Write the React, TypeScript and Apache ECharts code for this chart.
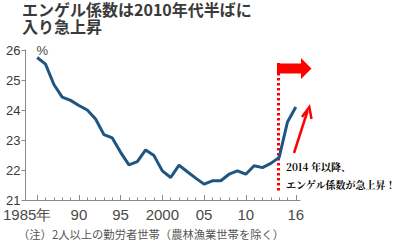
import React, { useEffect, useRef } from "react";
import * as echarts from "echarts";

const years = [1985, 1986, 1987, 1988, 1989, 1990, 1991, 1992, 1993, 1994, 1995, 1996, 1997, 1998, 1999, 2000, 2001, 2002, 2003, 2004, 2005, 2006, 2007, 2008, 2009, 2010, 2011, 2012, 2013, 2014, 2015, 2016];
const engel = [25.75, 25.53, 24.85, 24.43, 24.32, 24.15, 24.0, 23.7, 23.18, 23.07, 22.59, 22.17, 22.28, 22.67, 22.48, 21.97, 21.75, 22.16, 21.94, 21.73, 21.53, 21.64, 21.64, 21.86, 21.97, 21.86, 22.14, 22.08, 22.22, 22.42, 23.6, 24.1];
const majorTicks = [1985, 1990, 1995, 2000, 2005, 2010, 2016];
const tickLabels: Record<number, string> = { 1985: "1985年", 1990: "90", 1995: "95", 2000: "2000", 2005: "05", 2010: "10", 2016: "16" };
const titleLines = ["エンゲル係数は2010年代半ばに", "入り急上昇"];
const note = "（注）2人以上の勤労者世帯（農林漁業世帯を除く）";
const annotation = ["2014 年以降、", "エンゲル係数が急上昇！"];
const markYear = 2014;

export default function App() {
  const ref = useRef<HTMLDivElement>(null);
  useEffect(() => {
    if (!ref.current) return;
    const chart = echarts.init(ref.current, null, { renderer: "svg" });
    const axisFont = "'Liberation Sans Narrow', 'Liberation Sans', Arial, sans-serif";
    chart.setOption({
      animation: false,
      grid: { left: 22.7, right: 100, top: 50, bottom: 44 },
      xAxis: [
        {
          type: "value",
          min: 1983.6,
          max: 2016.5,
          splitLine: { show: false },
          axisLine: { show: true, lineStyle: { color: "#8a8a8a", width: 1 } },
          axisTick: { show: true, inside: true, length: 2.5, customValues: years, lineStyle: { color: "#8a8a8a" } },
          axisLabel: { show: false },
        },
        {
          type: "value",
          position: "bottom",
          min: 1983.6,
          max: 2016.5,
          splitLine: { show: false },
          axisLine: { show: false },
          axisTick: { show: true, inside: true, length: 5, customValues: majorTicks, lineStyle: { color: "#8a8a8a" } },
          axisLabel: {
            show: true,
            showMinLabel: true,
            showMaxLabel: true,
            hideOverlap: false,
            customValues: majorTicks,
            margin: 7,
            fontFamily: axisFont,
            fontSize: 15,
            color: "#4a4a4a",
            formatter: (v: number) => (v === 1985 ? "{a|" + tickLabels[v] + "}" : tickLabels[v] || ""),
            rich: { a: { fontFamily: axisFont, fontSize: 15, color: "#4a4a4a", padding: [0, 20, 0, 0] } },
          },
        },
      ],
      yAxis: {
        type: "value",
        min: 21,
        max: 26,
        interval: 1,
        name: "%",
        nameLocation: "end",
        nameGap: 0,
        nameTextStyle: { align: "left", verticalAlign: "middle", padding: [0, 0, 0, 11], fontSize: 13, color: "#4a4a4a", fontFamily: "'Liberation Sans', Arial, sans-serif" },
        splitLine: { show: false },
        axisLine: { show: true, lineStyle: { color: "#8a8a8a", width: 1 } },
        axisTick: { show: true, length: 4, lineStyle: { color: "#8a8a8a" } },
        axisLabel: { margin: 5, showMinLabel: true, showMaxLabel: true, fontSize: 13, lineHeight: 13, color: "#3a3a3a", fontFamily: "'Liberation Sans Narrow', 'Liberation Sans', Arial, sans-serif" },
      },
      series: [
        {
          type: "line",
          data: years.map((y, i) => [y, engel[i]]),
          showSymbol: false,
          symbol: "none",
          lineStyle: { color: "#1f5582", width: 3 },
          xAxisIndex: 0,
        },
      ],
    });

    const px = chart.convertToPixel({ xAxisIndex: 0 }, markYear) as number;
    const x = Math.round(px) - 0.5;
    chart.setOption({
      graphic: [
        {
          type: "text",
          x: 22,
          y: 8.5,
          style: { text: titleLines[0], font: "bold 16px 'Noto Sans CJK JP', sans-serif", fill: "#3a3a3a", verticalAlign: "middle" },
        },
        {
          type: "text",
          x: 22,
          y: 26,
          style: { text: titleLines[1], font: "bold 16px 'Noto Sans CJK JP', sans-serif", fill: "#3a3a3a", verticalAlign: "middle" },
        },
        {
          type: "text",
          left: 18,
          top: 228,
          style: { text: note, font: "11.3px 'Noto Sans CJK JP', sans-serif", fill: "#555555" },
        },
        {
          type: "line",
          shape: { x1: x, y1: 63, x2: x, y2: 191 },
          style: { stroke: "#ff0000", lineWidth: 3, lineDash: [2.5, 2.5] },
        },
        {
          type: "polygon",
          shape: { points: [[x - 1.5, 63.5], [301, 63.5], [301, 58], [311.5, 68.5], [301, 79], [301, 73.5], [x - 1.5, 73.5]] },
          style: { fill: "#ff0000" },
        },
        {
          type: "line",
          shape: { x1: 294, y1: 153, x2: 307.5, y2: 111 },
          style: { stroke: "#ff0000", lineWidth: 2.5 },
        },
        {
          type: "polyline",
          shape: { points: [[302, 117], [309.3, 107], [311.5, 119]] },
          style: { stroke: "#ff0000", lineWidth: 2.5, fill: "none" },
        },
        {
          type: "text",
          x: 286,
          y: 166,
          style: { text: annotation[0], font: "bold 10px 'Noto Serif CJK JP', 'Noto Sans CJK JP', serif", fill: "#000000", verticalAlign: "middle" },
        },
        {
          type: "text",
          x: 286,
          y: 184,
          style: { text: annotation[1], font: "bold 10px 'Noto Serif CJK JP', 'Noto Sans CJK JP', serif", fill: "#000000", verticalAlign: "middle" },
        },
      ],
    });
    return () => chart.dispose();
  }, []);
  return <div ref={ref} style={{ width: 400, height: 244, position: "absolute", left: 0, top: 0 }} />;
}
